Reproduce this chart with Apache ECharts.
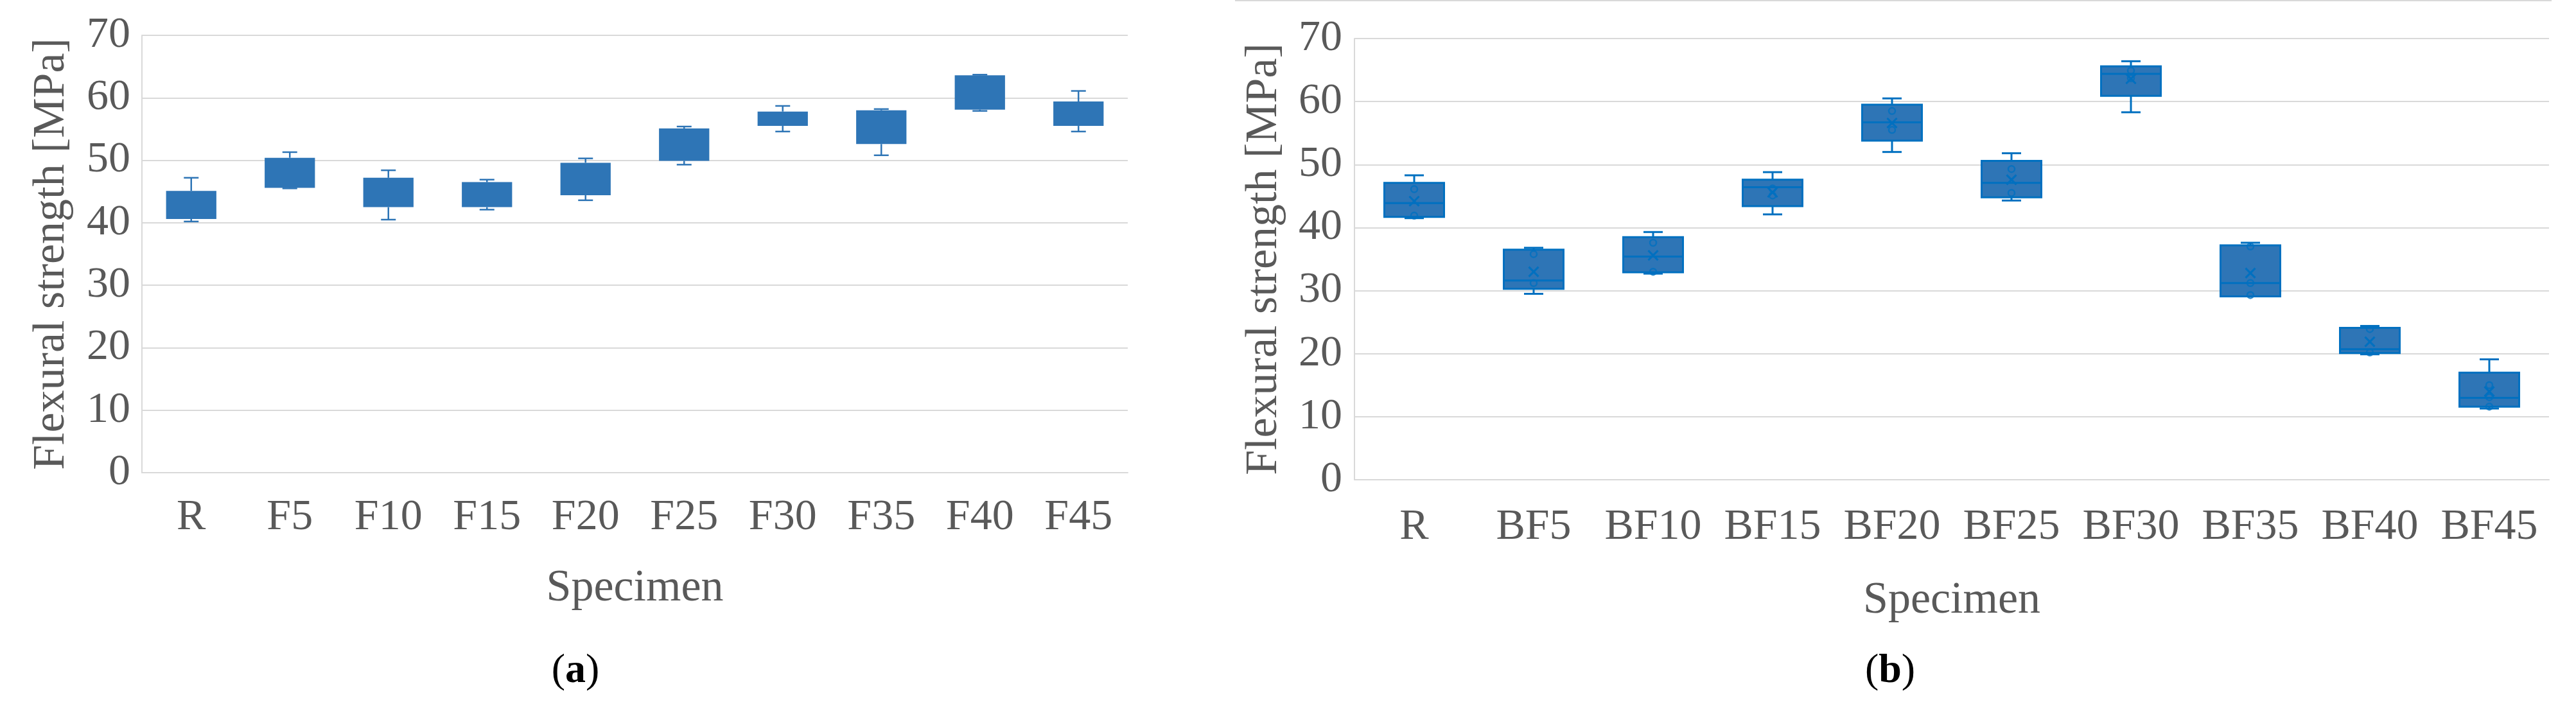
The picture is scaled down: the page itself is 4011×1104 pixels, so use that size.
<!DOCTYPE html>
<html><head><meta charset="utf-8">
<script src="https://cdn.jsdelivr.net/npm/echarts@6/dist/echarts.min.js"></script>
<style>html,body{margin:0;padding:0;background:#fff}#c{width:4011px;height:1104px}</style>
</head><body><div id="c"></div><script>
// ---- Panel (a) data ----
const catsA = ['R','F5','F10','F15','F20','F25','F30','F35','F40','F45'];
const minA  = [40.2, 45.5, 40.5, 42.1, 43.6, 49.3, 54.6, 50.8, 57.9, 54.6];
const q1A   = [40.6, 45.6, 42.5, 42.5, 44.4, 49.9, 55.5, 52.6, 58.1, 55.5];
const q3A   = [45.1, 50.4, 47.2, 46.5, 49.6, 55.1, 57.8, 58.0, 63.6, 59.4];
const maxA  = [47.2, 51.3, 48.4, 46.9, 50.3, 55.4, 58.7, 58.2, 63.7, 61.1];
// ---- Panel (b) data ----
const catsB = ['R','BF5','BF10','BF15','BF20','BF25','BF30','BF35','BF40','BF45'];
const minB  = [41.5, 29.5, 32.7, 42.1, 52.0, 44.3, 58.3, 29.1, 19.9, 11.3];
const q1B   = [41.7, 30.3, 32.9, 43.4, 53.8, 44.8, 60.9, 29.1, 20.1, 11.6];
const medB  = [43.9, 31.6, 35.4, 46.4, 56.7, 47.1, 64.4, 31.2, 20.7, 13.0];
const q3B   = [47.1, 36.5, 38.5, 47.6, 59.5, 50.6, 65.6, 37.2, 24.1, 17.0];
const maxB  = [48.3, 36.8, 39.3, 48.8, 60.5, 51.8, 66.4, 37.6, 24.4, 19.1];
const meanB = [44.2, 33.0, 35.6, 45.6, 56.6, 47.6, 63.6, 32.8, 21.9, 14.0];
const pointsB = [[46.1, 41.9],[35.8, 31.2],[37.6, 33.0],[46.2, 45.1],[58.5, 55.5],
                 [49.3, 45.5],[64.9, 63.7],[37.0, 31.2, 29.3],[23.9, 20.2],[15.0, 13.1, 11.6]];
const yTicks = [0, 70, 10]; // min, max, interval
const yTitle = 'Flexural strength [MPa]';
const xTitle = 'Specimen';

const FONT = 'Liberation Serif';
const GRAY = '#595959';
const GRID = '#D9D9D9';

function makeBox(opt) {
  return function (params, api) {
    const i = api.value(0);
    const band = api.size([1, 0])[0];
    const bw = band * opt.ratio;
    const cx = api.coord([i, 0])[0];
    const yLo = api.coord([i, api.value(1)])[1];
    const yQ1 = api.coord([i, api.value(2)])[1];
    const yQ3 = api.coord([i, api.value(3)])[1];
    const yHi = api.coord([i, api.value(4)])[1];
    const ls = {stroke: opt.line, lineWidth: opt.lw};
    const h = opt.cap / 2;
    const ch = [
      {type:'line', shape:{x1:cx,y1:yHi,x2:cx,y2:yQ3}, style:ls},
      {type:'line', shape:{x1:cx,y1:yQ1,x2:cx,y2:yLo}, style:ls},
      {type:'line', shape:{x1:cx-h,y1:yHi,x2:cx+h,y2:yHi}, style:ls},
      {type:'line', shape:{x1:cx-h,y1:yLo,x2:cx+h,y2:yLo}, style:ls},
      {type:'rect', shape:{x:cx-bw/2, y:yQ3, width:bw, height:yQ1-yQ3},
        style:{fill:opt.fill, stroke: opt.stroke || null, lineWidth: opt.stroke ? opt.lw : 0}}
    ];
    if (opt.median) {
      const yM = api.coord([i, api.value(5)])[1];
      ch.push({type:'line', shape:{x1:cx-bw/2,y1:yM,x2:cx+bw/2,y2:yM}, style:ls});
    }
    if (opt.mean) {
      const yMe = api.coord([i, api.value(6)])[1];
      const s = 7.5;
      ch.push({type:'line', shape:{x1:cx-s,y1:yMe-s,x2:cx+s,y2:yMe+s}, style:ls});
      ch.push({type:'line', shape:{x1:cx-s,y1:yMe+s,x2:cx+s,y2:yMe-s}, style:ls});
    }
    return {type:'group', children: ch};
  };
}

function xAxisCfg(idx, cats, margin, gap) {
  return {
    type:'category', gridIndex: idx, data: cats,
    axisLine:{show:true, lineStyle:{color:GRID, width:2}},
    axisTick:{show:false},
    axisLabel:{fontFamily:FONT, fontSize:68, color:GRAY, margin: margin, interval: 0},
    name: xTitle, nameLocation:'middle', nameGap: gap,
    nameTextStyle:{fontFamily:FONT, fontSize:70, color:GRAY}
  };
}
function yAxisCfg(idx, margin, gap) {
  return {
    type:'value', gridIndex: idx, min: yTicks[0], max: yTicks[1], interval: yTicks[2],
    axisLine:{show:true, lineStyle:{color:GRID, width:2}},
    axisTick:{show:false},
    splitLine:{show:true, lineStyle:{color:GRID, width:2}},
    axisLabel:{fontFamily:FONT, fontSize:68, color:GRAY, margin: margin},
    name: yTitle, nameLocation:'middle', nameGap: gap,
    nameTextStyle:{fontFamily:FONT, fontSize:70, color:GRAY}
  };
}

const dataA = catsA.map((c, i) => [i, minA[i], q1A[i], q3A[i], maxA[i]]);
const dataB = catsB.map((c, i) => [i, minB[i], q1B[i], q3B[i], maxB[i], medB[i], meanB[i]]);
const ptsB = [];
pointsB.forEach((arr, i) => arr.forEach(v => ptsB.push([i, v])));

const chart = echarts.init(document.getElementById('c'));
chart.setOption({
  animation: false,
  backgroundColor: '#fff',
  grid: [
    {left:221, top:55, width:1535, height:681},
    {left:2109, top:60, width:1860, height:687}
  ],
  xAxis: [xAxisCfg(0, catsA, 36, 146), xAxisCfg(1, catsB, 40, 154)],
  yAxis: [yAxisCfg(0, 18, 105), yAxisCfg(1, 19, 105)],
  series: [
    {type:'custom', xAxisIndex:0, yAxisIndex:0, data:dataA,
     encode:{x:0, y:[1,2,3,4]},
     renderItem: makeBox({ratio:0.51, cap:23, lw:2.5, line:'#2E75B6', fill:'#2E75B6'})},
    {type:'custom', xAxisIndex:1, yAxisIndex:1, data:dataB,
     encode:{x:0, y:[1,2,3,4,5,6]},
     renderItem: makeBox({ratio:0.5, cap:30, lw:3, line:'#0070C0', fill:'#2E75B6', stroke:'#0070C0', median:true, mean:true})},
    {type:'scatter', xAxisIndex:1, yAxisIndex:1, data:ptsB, z:5,
     symbol:'circle', symbolSize:10,
     itemStyle:{color:'rgba(0,0,0,0)', borderColor:'#0070C0', borderWidth:2.5}}
  ],
  graphic: [
    {type:'line', shape:{x1:1923, y1:1, x2:3973, y2:1}, style:{stroke:GRID, lineWidth:2}},
    {type:'text', x:896, y:1045, style:{text:'{p|(}{b|a}{p|)}', align:'center', verticalAlign:'middle',
      rich:{p:{fontFamily:FONT, fontSize:64, fill:'#000'}, b:{fontFamily:FONT, fontSize:64, fontWeight:'bold', fill:'#000'}}}},
    {type:'text', x:2943, y:1045, style:{text:'{p|(}{b|b}{p|)}', align:'center', verticalAlign:'middle',
      rich:{p:{fontFamily:FONT, fontSize:64, fill:'#000'}, b:{fontFamily:FONT, fontSize:64, fontWeight:'bold', fill:'#000'}}}}
  ]
});
</script></body></html>
